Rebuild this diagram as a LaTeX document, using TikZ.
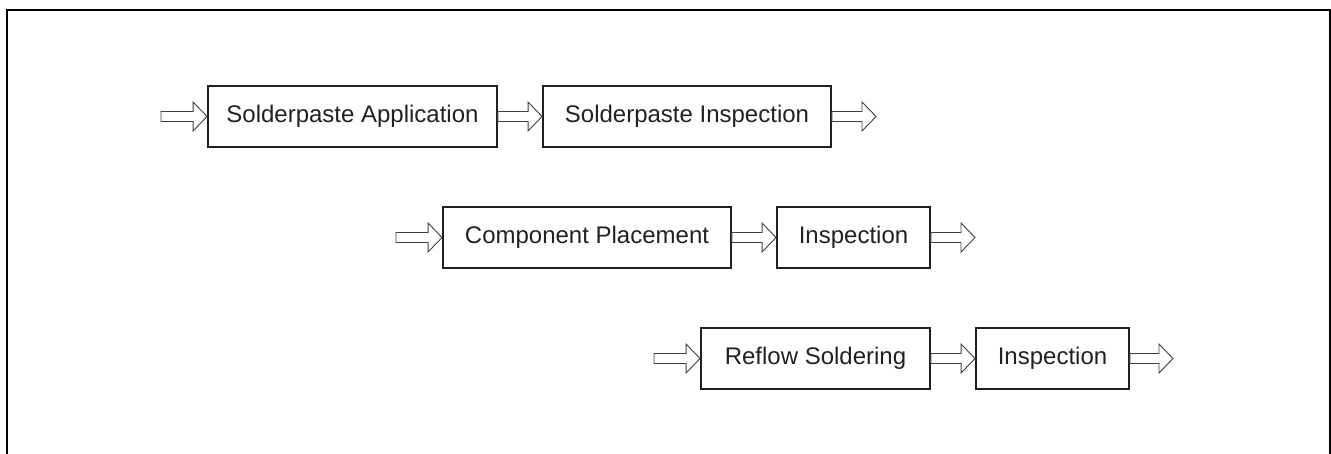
\documentclass[tikz,border=0pt]{standalone}
\usepackage{fontspec}
\setmainfont{Liberation Sans}
\usetikzlibrary{calc}
\tikzset{
  stepbox/.style={draw=black!88, line width=1.9pt, rectangle, inner sep=0pt,
    minimum height=61pt, text=black!87, font=\fontsize{24}{28}\selectfont},
  arrowline/.style={draw=black!75, line width=0.9pt, fill=white},
  frameline/.style={draw=black, line width=1.3pt}
}
\newcommand\blockarrow[2]{%
  \draw[arrowline] let \p1=#1, \p2=#2 in
    (\x1,\y1-5pt) -- (\x2-14pt,\y1-5pt) -- (\x2-14pt,\y1-14.5pt) -- (\x2,\y1)
    -- (\x2-14pt,\y1+14.5pt) -- (\x2-14pt,\y1+5pt) -- (\x1,\y1+5pt) -- cycle;}
\begin{document}
\begin{tikzpicture}[x=1pt,y=-1pt]
\useasboundingbox (0,0) rectangle (1331,454);
\draw[frameline] (7,454) -- (7,10) -- (1330,10) -- (1330,454);

% row 1
\node[stepbox, minimum width=289pt] (sa) at (352.5,116.5) {Solderpaste Application};
\node[stepbox, minimum width=288pt] (si) at (687,116.5) {Solderpaste Inspection};
\coordinate (in1) at (161,116.5);
\coordinate (out1) at (876,116.5);
% row 2
\node[stepbox, minimum width=288pt] (cp) at (587,237.5) {Component Placement};
\node[stepbox, minimum width=153pt] (ci) at (853.5,237.5) {Inspection};
\coordinate (in2) at (396,237.5);
\coordinate (out2) at (975,237.5);
% row 3
\node[stepbox, minimum width=229pt] (rs) at (815.5,358.5) {Reflow Soldering};
\node[stepbox, minimum width=153pt] (ri) at (1052.5,358.5) {Inspection};
\coordinate (in3) at (654,358.5);
\coordinate (out3) at (1173,358.5);

\blockarrow{(in1)}{(sa.west)}
\blockarrow{(sa.east)}{(si.west)}
\blockarrow{(si.east)}{(out1)}
\blockarrow{(in2)}{(cp.west)}
\blockarrow{(cp.east)}{(ci.west)}
\blockarrow{(ci.east)}{(out2)}
\blockarrow{(in3)}{(rs.west)}
\blockarrow{(rs.east)}{(ri.west)}
\blockarrow{(ri.east)}{(out3)}
\end{tikzpicture}
\end{document}
